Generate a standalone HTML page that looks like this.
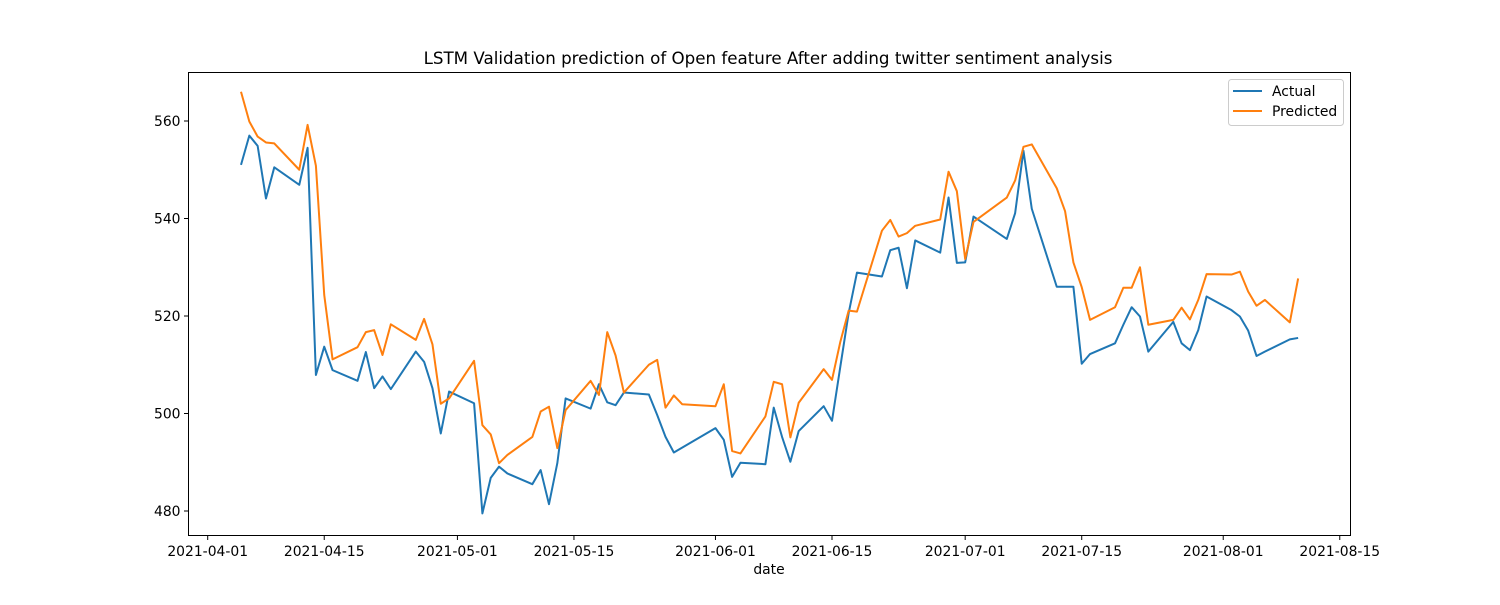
<!DOCTYPE html>
<html><head><meta charset="utf-8"><style>
body{margin:0;background:#fff;}
svg text{font-family:"DejaVu Sans","Liberation Sans",sans-serif;}
</style></head><body>
<svg id="chart" width="1500" height="600" xmlns="http://www.w3.org/2000/svg">
<rect width="1500" height="600" fill="#fff"/>
<text x="768" y="64" text-anchor="middle" font-size="16.7" fill="#000">LSTM Validation prediction of Open feature After adding twitter sentiment analysis</text>
<g id="grid"></g>
<g id="series"></g>
<text x="769" y="574" text-anchor="middle" font-size="13.9">date</text>
<g>
<rect x="1228.5" y="79.5" width="115" height="46" rx="3" fill="#fff" fill-opacity="0.8" stroke="#ccc"/>
<line x1="1233" y1="91" x2="1262" y2="91" stroke="#1f77b4" stroke-width="2"/>
<text x="1272" y="96" font-size="13.9">Actual</text>
<line x1="1233" y1="111" x2="1262" y2="111" stroke="#ff7f0e" stroke-width="2"/>
<text x="1272" y="116" font-size="13.9">Predicted</text>
</g>
</svg>
<script>
const dates = ["2021-04-05","2021-04-06","2021-04-07","2021-04-08","2021-04-09","2021-04-12","2021-04-13","2021-04-14","2021-04-15","2021-04-16","2021-04-19","2021-04-20","2021-04-21","2021-04-22","2021-04-23","2021-04-26","2021-04-27","2021-04-28","2021-04-29","2021-04-30","2021-05-03","2021-05-04","2021-05-05","2021-05-06","2021-05-07","2021-05-10","2021-05-11","2021-05-12","2021-05-13","2021-05-14","2021-05-17","2021-05-18","2021-05-19","2021-05-20","2021-05-21","2021-05-24","2021-05-25","2021-05-26","2021-05-27","2021-05-28","2021-06-01","2021-06-02","2021-06-03","2021-06-04","2021-06-07","2021-06-08","2021-06-09","2021-06-10","2021-06-11","2021-06-14","2021-06-15","2021-06-16","2021-06-17","2021-06-18","2021-06-21","2021-06-22","2021-06-23","2021-06-24","2021-06-25","2021-06-28","2021-06-29","2021-06-30","2021-07-01","2021-07-02","2021-07-06","2021-07-07","2021-07-08","2021-07-09","2021-07-12","2021-07-13","2021-07-14","2021-07-15","2021-07-16","2021-07-19","2021-07-20","2021-07-21","2021-07-22","2021-07-23","2021-07-26","2021-07-27","2021-07-28","2021-07-29","2021-07-30","2021-08-02","2021-08-03","2021-08-04","2021-08-05","2021-08-06","2021-08-09","2021-08-10"];
const actual = [551.0,557.0,554.9,544.1,550.5,546.9,554.5,507.9,513.7,508.9,506.7,512.6,505.2,507.6,505.0,512.7,510.6,505.2,495.9,504.5,502.1,479.5,486.8,489.1,487.7,485.5,488.4,481.4,489.8,503.1,501.0,506.0,502.3,501.7,504.3,503.9,499.7,495.2,492.0,493.0,497.0,494.6,487.0,489.9,489.6,501.2,495.2,490.1,496.4,501.5,498.5,509.6,520.6,528.9,528.1,533.5,534.0,525.7,535.5,533.0,544.3,530.9,531.0,540.4,535.8,541.1,553.9,542.0,526.0,526.0,526.0,510.2,512.2,514.4,518.2,521.8,519.9,512.7,518.8,514.4,513.0,517.1,524.0,521.2,519.9,517.0,511.8,512.7,515.2,515.5];
const predicted = [566.0,559.9,556.8,555.6,555.4,550.0,559.2,550.8,524.3,511.1,513.6,516.7,517.1,512.0,518.3,515.1,519.4,514.2,502.0,503.1,510.8,497.6,495.7,489.8,491.5,495.2,500.4,501.4,492.9,500.7,506.7,503.8,516.7,511.9,504.3,510.0,511.0,501.2,503.7,501.9,501.5,506.0,492.3,491.8,499.4,506.5,506.0,495.1,502.2,509.1,506.9,514.7,521.1,520.9,537.5,539.7,536.3,537.0,538.5,539.8,549.6,545.6,531.7,539.3,544.3,547.8,554.7,555.2,546.2,541.5,531.0,525.9,519.2,521.8,525.8,525.8,530.0,518.2,519.2,521.7,519.3,523.3,528.6,528.5,529.1,525.0,522.1,523.3,518.7,527.7];
const xTickLabels = ["2021-04-01","2021-04-15","2021-05-01","2021-05-15","2021-06-01","2021-06-15","2021-07-01","2021-07-15","2021-08-01","2021-08-15"];
const yTickValues = [480,500,520,540,560];

const NS="http://www.w3.org/2000/svg";
const L=188.5,R=1350.5,T=72.5,B=535.5;
const base=Date.UTC(2021,3,1);
function dayOf(s){const p=s.split('-');return (Date.UTC(+p[0],+p[1]-1,+p[2])-base)/86400000;}
function xScale(s){return 207.7+dayOf(s)*8.324;}
function yScale(v){return 121+(560-v)*4.875;}
function mk(tag,attrs,parent){const e=document.createElementNS(NS,tag);for(const k in attrs)e.setAttribute(k,attrs[k]);parent.appendChild(e);return e;}
const g=document.getElementById('grid');
const sg=document.getElementById('series');

function drawLine(vals,color,name){
  const pts=vals.map((v,i)=>xScale(dates[i]).toFixed(2)+','+yScale(v).toFixed(2)).join(' ');
  const pl=mk('polyline',{points:pts,fill:'none',stroke:color,'stroke-width':2,'stroke-linejoin':'round'},sg);
  
  
}
drawLine(actual,'#1f77b4','actual-line');
drawLine(predicted,'#ff7f0e','predicted-line');

const frame=mk('rect',{x:L,y:T,width:R-L,height:B-T,fill:'none',stroke:'#000','stroke-width':1},g);



xTickLabels.forEach(s=>{
  const x=xScale(s);
  const t=mk('line',{x1:x,y1:B,x2:x,y2:B+4.5,stroke:'#000'},g);
  
  
  const tx=mk('text',{x:x,y:B+20.5,'text-anchor':'middle','font-size':13.9},g);
  tx.textContent=s;
  
  
});
yTickValues.forEach(v=>{
  const y=yScale(v);
  const t=mk('line',{x1:L-4.5,y1:y,x2:L,y2:y,stroke:'#000'},g);
  
  
  const tx=mk('text',{x:L-8,y:y+5,'text-anchor':'end','font-size':13.9},g);
  tx.textContent=v;
  
  
});
</script>
</body></html>
